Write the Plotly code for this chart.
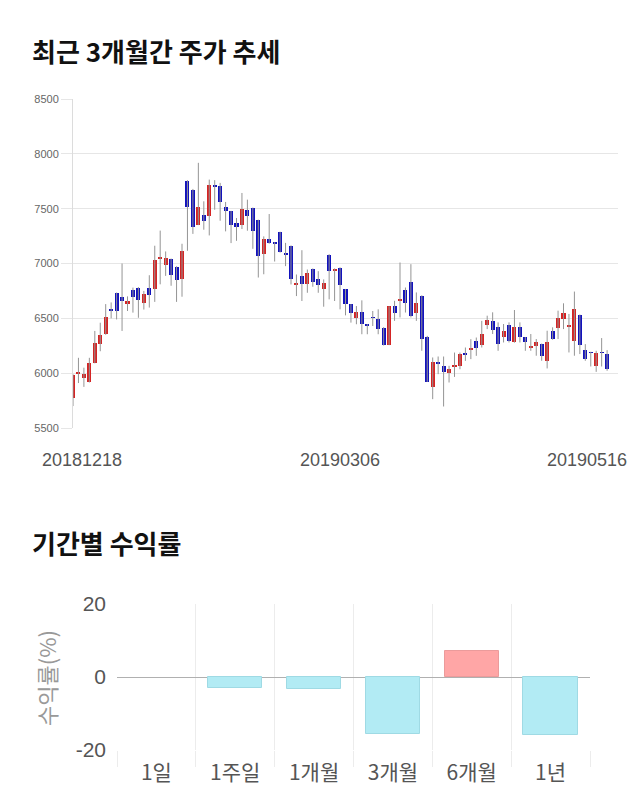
import plotly.graph_objects as go

# ---------------- data ----------------
dates = [
    "20181218", "20181219", "20181220", "20181221", "20181224", "20181226", "20181227", "20181228",
    "20190102", "20190103", "20190104", "20190107", "20190108", "20190109", "20190110", "20190111",
    "20190114", "20190115", "20190116", "20190117", "20190118", "20190121", "20190122", "20190123",
    "20190124", "20190125", "20190128", "20190129", "20190130", "20190131",
    "20190201", "20190207", "20190208", "20190211", "20190212", "20190213", "20190214", "20190215",
    "20190218", "20190219", "20190220", "20190221", "20190222", "20190225", "20190226", "20190227",
    "20190228",
    "20190304", "20190305", "20190306", "20190307", "20190308", "20190311", "20190312", "20190313",
    "20190314", "20190315", "20190318", "20190319", "20190320", "20190321", "20190322", "20190325",
    "20190326", "20190327", "20190328", "20190329",
    "20190401", "20190402", "20190403", "20190404", "20190405", "20190408", "20190409", "20190410",
    "20190411", "20190412", "20190415", "20190416", "20190417", "20190418", "20190419", "20190422",
    "20190423", "20190424", "20190425", "20190426", "20190429", "20190430",
    "20190502", "20190503", "20190507", "20190508", "20190509", "20190510", "20190513", "20190514",
    "20190515", "20190516",
]

opens = [5770, 6000, 5958, 5920, 6095, 6262, 6355, 6585, 6730, 6692,
         6631, 6756, 6780, 6643, 6780, 6771, 7050, 6988, 7040, 6970,
         6855, 7756, 7674, 7354, 7445, 7430, 7710, 7704, 7512, 7476,
         7369, 7354, 7485, 7506, 7399, 7088, 7226, 7190, 7285, 7095,
         7164, 6805, 6885, 6815, 6952, 6861, 6764, 7082, 6933, 6961,
         6764, 6627, 6506, 6561, 6445, 6512, 6497, 6416, 6255, 6608,
         6660, 6760, 6827, 6547, 6705, 6334, 5878, 6106, 6067, 6006,
         6060, 6067, 6176, 6213, 6295, 6255, 6441, 6479, 6418, 6326,
         6439, 6280, 6418, 6326, 6238, 6244, 6265, 6107, 6387, 6409,
         6494, 6427, 6296, 6530, 6213, 6192, 6061, 6188, 6174]
highs = [5990, 6140, 6050, 6140, 6385, 6460, 6630, 6645, 6735, 7000,
         6700, 6780, 6785, 6750, 6893, 7162, 7300, 7110, 7045, 6975,
         7180, 7760, 7680, 7918, 7567, 7765, 7760, 7735, 7561, 7480,
         7415, 7643, 7582, 7510, 7400, 7247, 7451, 7195, 7290, 7188,
         7165, 6900, 7121, 6945, 6955, 6930, 6855, 7085, 6955, 6965,
         6768, 6630, 6612, 6664, 6448, 6567, 6582, 6420, 6610, 6660,
         7009, 6781, 6994, 6736, 6710, 6340, 6143, 6152, 6152, 6067,
         6188, 6188, 6234, 6310, 6325, 6477, 6524, 6555, 6463, 6448,
         6463, 6576, 6463, 6330, 6357, 6311, 6270, 6387, 6418, 6570,
         6637, 6540, 6744, 6535, 6265, 6195, 6204, 6320, 6210]
lows = [5700, 5910, 5875, 5915, 6090, 6200, 6350, 6500, 6490, 6385,
        6567, 6552, 6505, 6580, 6598, 6650, 6810, 6887, 6797, 6650,
        6697, 7116, 7270, 7350, 7308, 7256, 7490, 7390, 7293, 7186,
        7207, 7314, 7299, 7134, 6872, 6902, 7180, 7018, 7100, 6976,
        6809, 6703, 6658, 6733, 6788, 6733, 6606, 6673, 6658, 6582,
        6527, 6461, 6446, 6355, 6355, 6430, 6355, 6252, 6255, 6477,
        6508, 6553, 6508, 6477, 6204, 5920, 5763, 5991, 5696, 5915,
        5966, 6036, 6112, 6128, 6158, 6234, 6402, 6357, 6204, 6280,
        6280, 6278, 6280, 6204, 6204, 6159, 6113, 6043, 6305, 6311,
        6402, 6189, 6159, 6174, 6113, 6061, 6012, 6061, 6022]
closes = [5985, 6005, 5995, 6095, 6275, 6344, 6515, 6575, 6570, 6655,
          6655, 6695, 6665, 6726, 6713, 7034, 7052, 7049, 6898, 6850,
          7118, 7512, 7332, 7512, 7384, 7713, 7700, 7561, 7476, 7354,
          7332, 7497, 7430, 7293, 7064, 7226, 7186, 7182, 7105, 7085,
          6861, 6815, 6815, 6915, 6833, 6803, 6824, 6930, 6952, 6803,
          6633, 6552, 6561, 6446, 6438, 6504, 6400, 6255, 6608, 6553,
          6675, 6644, 6523, 6638, 6310, 5924, 6106, 6082, 6015, 6036,
          6066, 6173, 6170, 6234, 6234, 6356, 6481, 6396, 6265, 6381,
          6296, 6418, 6326, 6280, 6244, 6280, 6159, 6287, 6311, 6500,
          6546, 6433, 6585, 6259, 6128, 6186, 6183, 6184, 6037]

date_ticks = ["20181218", "20190306", "20190516"]
price_ticks = [5500, 6000, 6500, 7000, 7500, 8000, 8500]

periods = ["1일", "1주일", "1개월", "3개월", "6개월", "1년"]
returns = [0.0, -3.1, -3.3, -15.6, 7.1, -15.9]
return_ticks = [-20, 0, 20]
return_ticktext = ["-20", "0", "20"]

# ---------------- styles ----------------
RED = "#d42424"
BLUE = "#1212bc"
WICK = "#949494"
GRID = "#e6e6e6"
KFONT = "Noto Sans CJK KR"

fig = go.Figure()

# wicks
wx, wy = [], []
for d, lo, hi in zip(dates, lows, highs):
    wx += [d, d, None]
    wy += [lo, hi, None]
fig.add_trace(go.Scatter(x=wx, y=wy, mode="lines", line=dict(color=WICK, width=1),
                         hoverinfo="skip", showlegend=False, xaxis="x", yaxis="y"))

# bodies
bases = [min(o, c) for o, c in zip(opens, closes)]
heights = [abs(c - o) for o, c in zip(opens, closes)]
colors = [RED if c >= o else BLUE for o, c in zip(opens, closes)]
fig.add_trace(go.Bar(x=dates, y=heights, base=bases, width=0.75,
                     marker=dict(color=colors, line=dict(width=0)),
                     showlegend=False, xaxis="x", yaxis="y"))

# returns bars
bar_fill = ["#ffa6a6" if v > 0 else "#b2ebf4" for v in returns]
bar_line = ["#eb9b9b" if v > 0 else "#9fdae4" for v in returns]
bar_lw = [0 if v == 0 else 1 for v in returns]
fig.add_trace(go.Bar(x=periods, y=returns, width=0.69,
                     marker=dict(color=bar_fill, line=dict(color=bar_line, width=bar_lw)),
                     showlegend=False, xaxis="x2", yaxis="y2"))

H = 810.0
W = 640.0

fig.update_layout(
    width=640, height=810,
    margin=dict(l=0, r=0, t=0, b=0, autoexpand=False),
    paper_bgcolor="white", plot_bgcolor="white",
    bargap=0,
    xaxis=dict(domain=[73 / W, 618 / W], type="category", categoryorder="array",
               categoryarray=dates, range=[0, 100], showgrid=False, showticklabels=False,
               ticks="", zeroline=False, anchor="y", automargin=False),
    yaxis=dict(domain=[(H - 428) / H, (H - 99) / H], range=[5500, 8500],
               tickvals=price_ticks, showgrid=True, gridcolor=GRID, gridwidth=1,
               showline=True, linecolor="#dcdcdc", linewidth=1,
               ticks="outside", ticklen=11, tickcolor=GRID,
               tickfont=dict(family="Liberation Sans", size=11, color="#666666"),
               zeroline=False, anchor="x", automargin=False),
    xaxis2=dict(domain=[117 / W, 590 / W], type="category", anchor="y2",
                tickson="boundaries", showgrid=True, gridcolor="#ececec",
                ticks="outside", ticklen=16, tickcolor="#ececec", ticklabelstandoff=8,
                tickfont=dict(family=KFONT, size=21, color="#555555"),
                showline=False, zeroline=False, automargin=False),
    yaxis2=dict(domain=[(H - 750) / H, (H - 604) / H], range=[-20, 20],
                tickvals=return_ticks, ticktext=return_ticktext, anchor="x2",
                showgrid=True, gridcolor="#e2e2e2",
                zeroline=True, zerolinecolor="#b0b0b0", zerolinewidth=1,
                ticks="", ticklabelstandoff=10,
                tickfont=dict(family="Liberation Sans", size=21, color="#555555"),
                automargin=False),
)

annotations = [
    dict(text="<b>최근 3개월간 주가 추세</b>", xref="paper", yref="paper",
         x=30 / W, y=(H - 50) / H, xanchor="left", yanchor="middle", showarrow=False,
         font=dict(family=KFONT, size=26, color="#111111")),
    dict(text="<b>기간별 수익률</b>", xref="paper", yref="paper",
         x=30 / W, y=(H - 542) / H, xanchor="left", yanchor="middle", showarrow=False,
         font=dict(family=KFONT, size=26, color="#111111")),
    dict(text="수익률(%)", xref="paper", yref="paper", textangle=-90,
         x=46 / W, y=(H - 678) / H, xanchor="center", yanchor="middle", showarrow=False,
         font=dict(family=KFONT, size=22, color="#999999")),
]
# date labels under the candle chart
anchors = ["left", "center", "right"]
shifts = [-33, 0, 22]
for d, a, s in zip(date_ticks, anchors, shifts):
    annotations.append(dict(text=d, xref="x", yref="paper", x=dates.index(d), y=(H - 460) / H,
                            xanchor=a, yanchor="middle", xshift=s, showarrow=False,
                            font=dict(family="Liberation Sans", size=18, color="#555555")))
fig.update_layout(annotations=annotations)

fig.write_html("out.html")
